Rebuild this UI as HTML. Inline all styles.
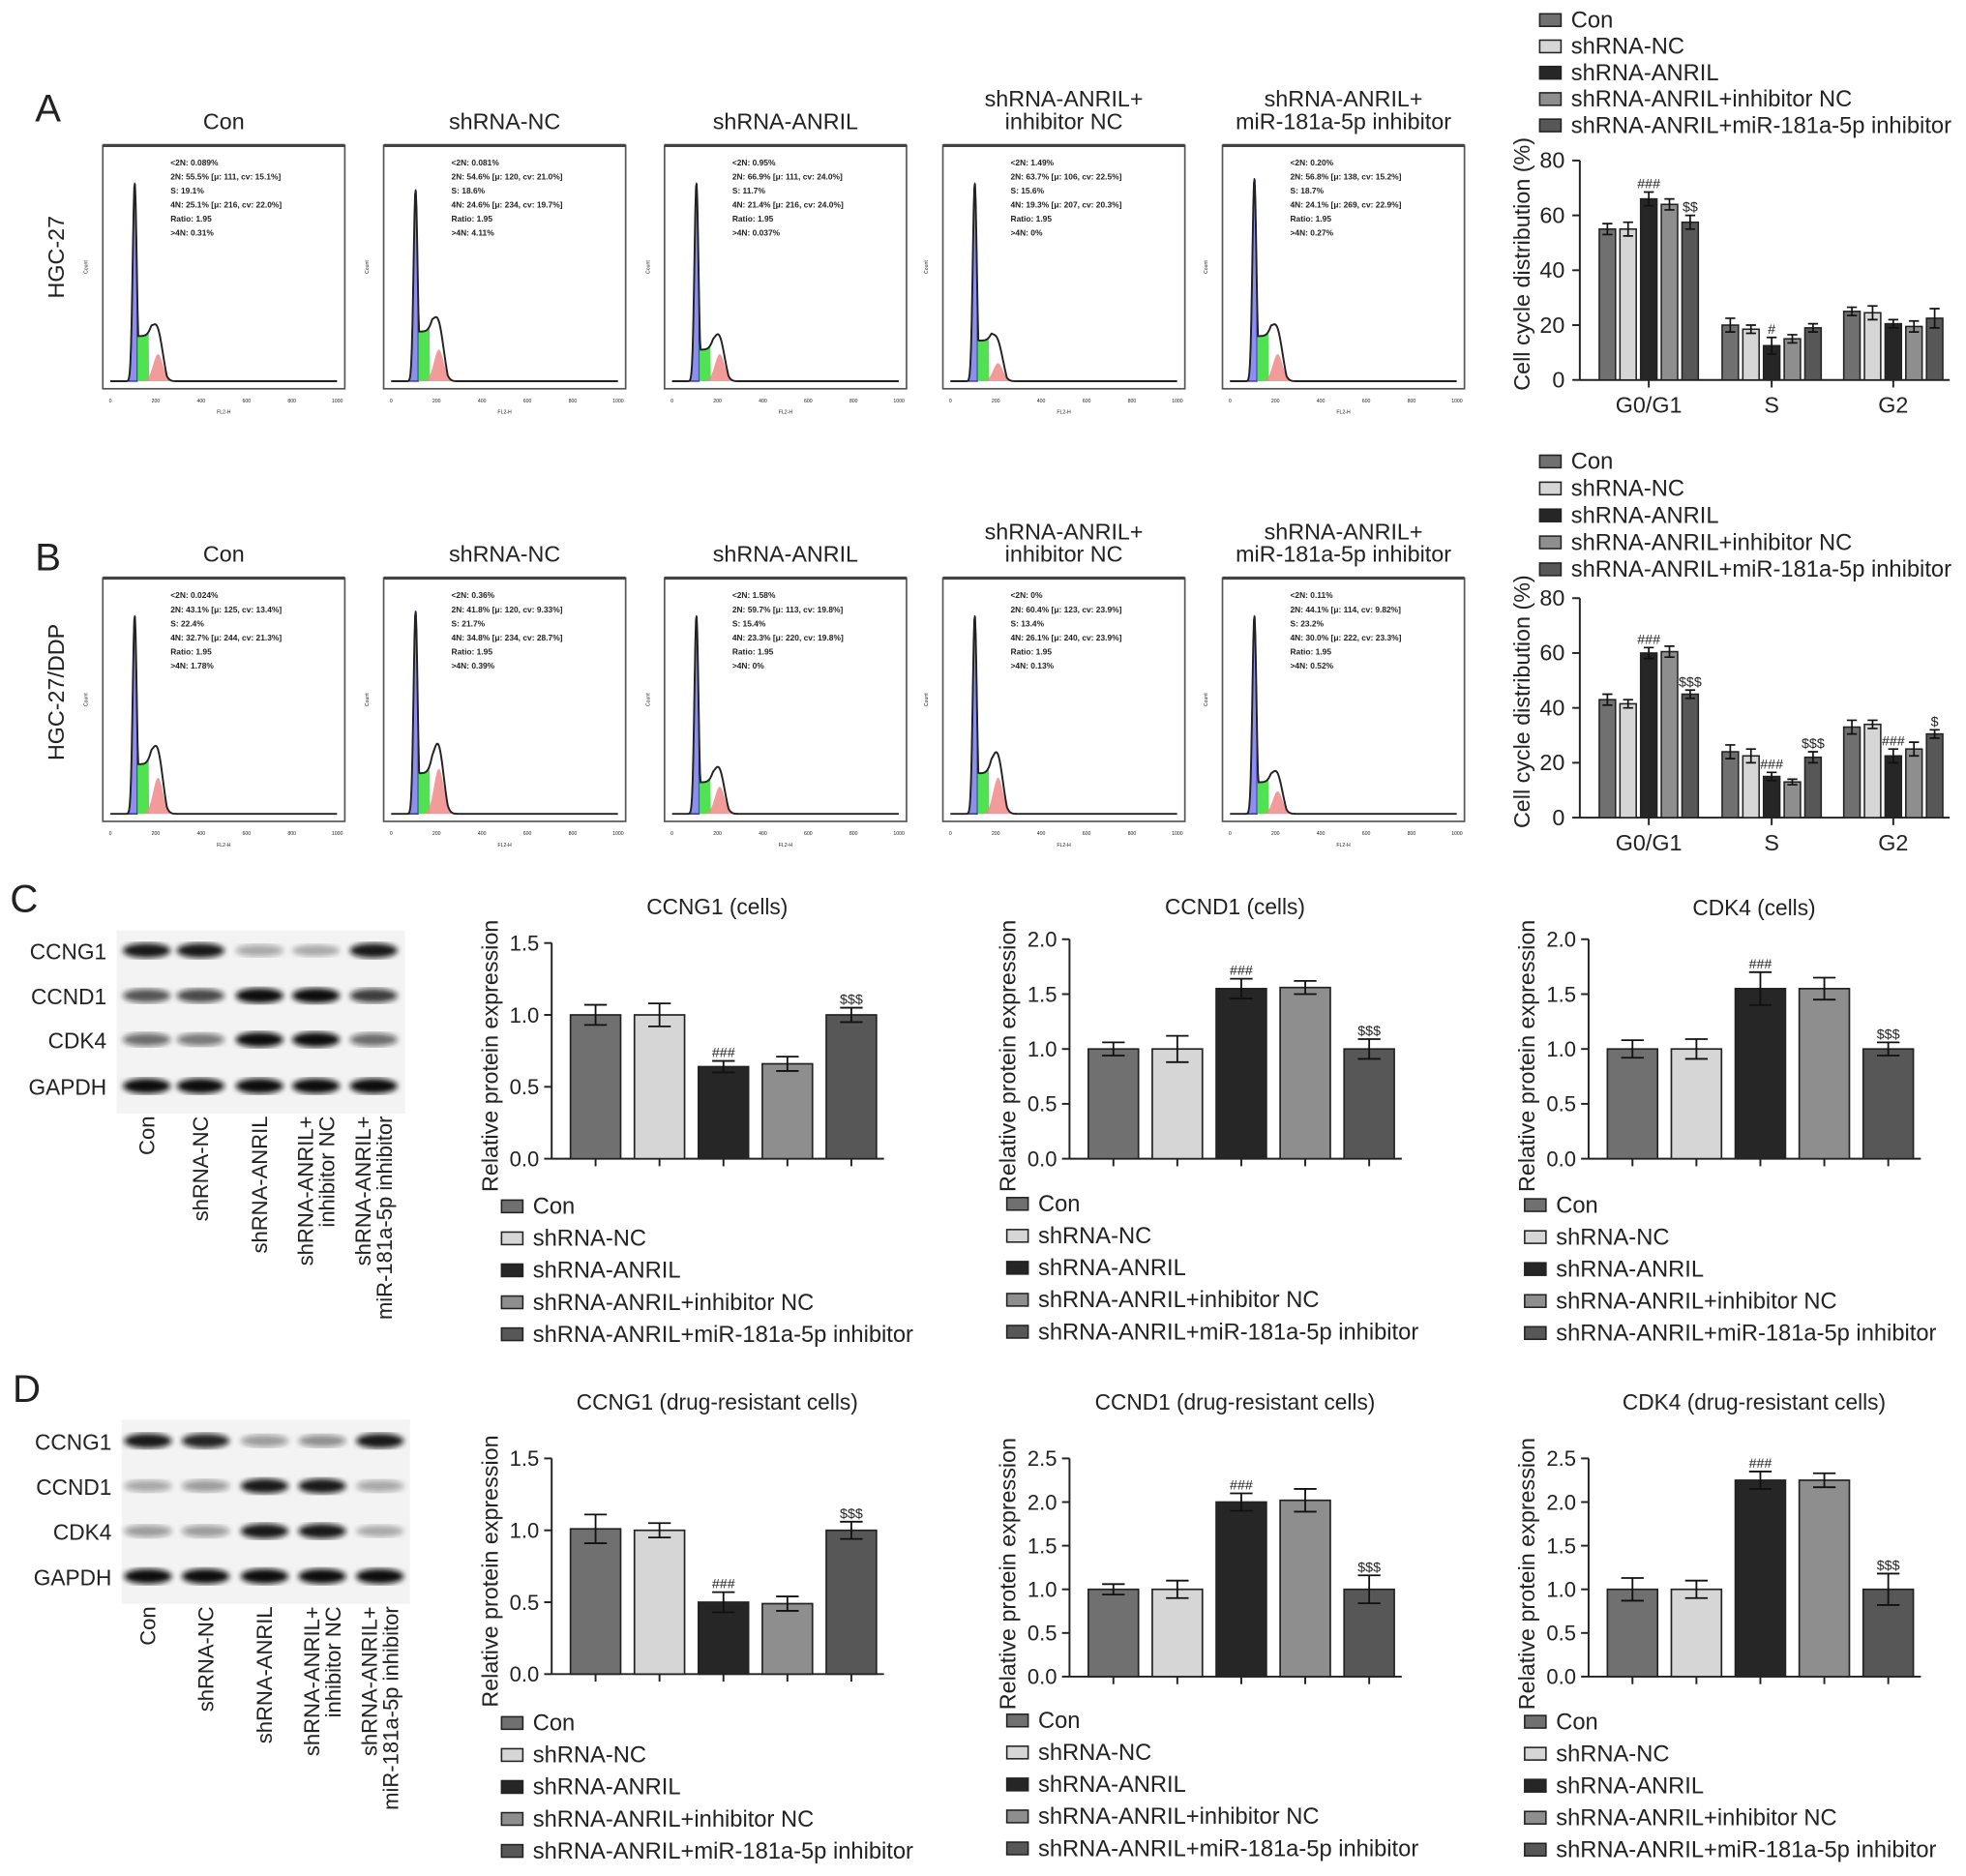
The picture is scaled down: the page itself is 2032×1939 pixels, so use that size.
<!DOCTYPE html>
<html><head><meta charset="utf-8"><style>
html,body{margin:0;padding:0;background:#fff}
svg{display:block}
text{font-family:"Liberation Sans",Arial,sans-serif;fill:#222}
</style></head><body>
<svg id="fig" xmlns="http://www.w3.org/2000/svg" width="2032" height="1939" viewBox="0 0 1568 1496" preserveAspectRatio="none">
<defs><filter id="blur"><feGaussianBlur stdDeviation="2.2"/></filter></defs>
</svg>
<script>
const groups = ["Con","shRNA-NC","shRNA-ANRIL","shRNA-ANRIL+inhibitor NC","shRNA-ANRIL+miR-181a-5p inhibitor"];
const phases = ["G0/G1","S","G2"];
// Cell cycle A (HGC-27)
const cycA_G1 = [55,55,66,64,57.5];
const cycA_S = [20,18.5,12.5,15,19];
const cycA_G2 = [25,24.5,20.5,19.5,22.5];
const cycA_err = [[2,2.5,2.5,2,2.5],[2.5,1.5,3,1.5,1.5],[1.5,2.5,1.5,2,3.5]];
// Cell cycle B (HGC-27/DDP)
const cycB_G1 = [43,41.5,60,60.5,45];
const cycB_S = [24,22.5,15,13,22];
const cycB_G2 = [33,34,22.5,25,30.5];
const cycB_err = [[2,1.5,2,2,1.5],[2.5,2.5,1.5,1,2],[2.5,1.5,2.5,2.5,1.5]];
const cycTicks = [0,20,40,60,80];
// Protein expression C
const c_CCNG1 = [1.0,1.0,0.64,0.66,1.0];
const c_CCND1 = [1.0,1.0,1.55,1.56,1.0];
const c_CDK4 = [1.0,1.0,1.55,1.55,1.0];
// Protein expression D
const d_CCNG1 = [1.01,1.0,0.5,0.49,1.0];
const d_CCND1 = [1.0,1.0,2.0,2.02,1.0];
const d_CDK4 = [1.0,1.0,2.25,2.25,1.0];
const c_err = [[0.07,0.08,0.04,0.05,0.05],[0.06,0.12,0.09,0.06,0.09],[0.08,0.09,0.15,0.1,0.06]];
const d_err = [[0.1,0.05,0.07,0.05,0.06],[0.06,0.1,0.1,0.13,0.16],[0.13,0.1,0.1,0.08,0.18]];
const ticks15 = [0.0,0.5,1.0,1.5];
const ticks20 = [0.0,0.5,1.0,1.5,2.0];
const ticks25 = [0.0,0.5,1.0,1.5,2.0,2.5];
const fills = ["#707070","#d6d6d6","#262626","#8e8e8e","#575757"];

const NS="http://www.w3.org/2000/svg";
const svg=document.getElementById('fig');
function el(tag,attrs,parent,txt){const e=document.createElementNS(NS,tag);for(const k in attrs)e.setAttribute(k,attrs[k]);if(txt!==undefined)e.textContent=txt;(parent||svg).appendChild(e);return e;}
function T(x,y,s,size,extra,parent){const a=Object.assign({x:x,y:y,'font-size':size},extra||{});return el('text',a,parent,s);}

[["A",28,97],["B",28,455],["C",8,727],["D",10,1118]].forEach(p=>{const t=T(p[1],p[2],p[0],31);

});

function legend(x,y0,dy,size,name){const g=el('g',{});


groups.forEach((gr,i)=>{const y=y0+i*dy;
el('rect',{x:x,y:y-5,width:17,height:10,fill:fills[i],stroke:'#222','stroke-width':1.2},g);
const t=T(x+25,y+6,gr,size,{},g);

});}

function cycleChart(ax,y0,y80,series,errs,marks,name){
const g=el('g',{});


const ys=v=>y0-(v/80)*(y0-y80);
el('line',{x1:ax,y1:y80,x2:ax,y2:y0,stroke:'#222','stroke-width':1.5},g);
el('line',{x1:ax,y1:y0,x2:ax+295,y2:y0,stroke:'#222','stroke-width':1.5},g);
cycTicks.forEach(t=>{el('line',{x1:ax-6,y1:ys(t),x2:ax,y2:ys(t),stroke:'#222','stroke-width':1.5},g);
T(ax-12,ys(t)+6,String(t),18,{'text-anchor':'end'},g);});
const yl=T(0,0,"Cell cycle distribution (%)",18,{'text-anchor':'middle',transform:`translate(${ax-40},${(y0+y80)/2-5}) rotate(-90)`},g);


const centers=[ax+55,ax+153,ax+250];
series.forEach((vals,gi)=>{
 el('line',{x1:centers[gi],y1:y0,x2:centers[gi],y2:y0+6,stroke:'#222','stroke-width':1.5},g);
 T(centers[gi],y0+26,phases[gi],18,{'text-anchor':'middle'},g);
 vals.forEach((v,i)=>{const cx=centers[gi]+(i-2)*16.5;
  const r=el('rect',{x:cx-6.5,y:ys(v),width:13,height:y0-ys(v),fill:fills[i],stroke:'#222','stroke-width':1.2},g);
  
  
  const e=errs[gi][i];
  el('path',{d:`M${cx} ${ys(v+e)}V${ys(v-e)}M${cx-4} ${ys(v+e)}H${cx+4}M${cx-4} ${ys(v-e)}H${cx+4}`,stroke:'#111','stroke-width':1.3,fill:'none'},g);
  const m=marks[gi][i]; if(m) T(cx,ys(v+e)-3,m,11,{'text-anchor':'middle'},g);
 });});
}
legend(1228,16,21,18.3,'legend-a');
cycleChart(1260,303,128,[cycA_G1,cycA_S,cycA_G2],cycA_err,[["","","###","","$$"],["","","#","",""],["","","","",""]],'cell-cycle-chart-a');
legend(1228,368,21.5,18.3,'legend-b');
cycleChart(1260,652,477,[cycB_G1,cycB_S,cycB_G2],cycB_err,[["","","###","","$$$"],["","","###","","$$$"],["","","###","","$"]],'cell-cycle-chart-b');

function protChart(ax,y0,ytop,maxv,ticks,vals,errs,title,ty,name){
const g=el('g',{});


const ys=v=>y0-(v/maxv)*(y0-ytop);
const tt=T(ax+132,ty,title,17.5,{'text-anchor':'middle'},g);


el('line',{x1:ax,y1:ytop,x2:ax,y2:y0,stroke:'#222','stroke-width':1.5},g);
el('line',{x1:ax,y1:y0,x2:ax+265,y2:y0,stroke:'#222','stroke-width':1.5},g);
ticks.forEach(t=>{el('line',{x1:ax-6,y1:ys(t),x2:ax,y2:ys(t),stroke:'#222','stroke-width':1.5},g);
T(ax-10,ys(t)+6,t.toFixed(1),17,{'text-anchor':'end'},g);});
const yl=T(0,0,"Relative protein expression",18,{'text-anchor':'middle',transform:`translate(${ax-43},${y0-82}) rotate(-90)`},g);


vals.forEach((v,i)=>{const cx=ax+35+i*51;
 el('line',{x1:cx,y1:y0,x2:cx,y2:y0+6,stroke:'#222','stroke-width':1.5},g);
 const r=el('rect',{x:cx-20,y:ys(v),width:40,height:y0-ys(v),fill:fills[i],stroke:'#222','stroke-width':1.3},g);
 
 
 const e=errs[i];
 el('path',{d:`M${cx} ${ys(v+e)}V${ys(v-e)}M${cx-9} ${ys(v+e)}H${cx+9}M${cx-9} ${ys(v-e)}H${cx+9}`,stroke:'#111','stroke-width':1.4,fill:'none'},g);
 if(i===2) T(cx,ys(v+e)-3,"###",11,{'text-anchor':'middle'},g);
 if(i===4) T(cx,ys(v+e)-3,"$$$",11,{'text-anchor':'middle'},g);
});}
protChart(440,924,752,1.5,ticks15,c_CCNG1,c_err[0],"CCNG1 (cells)",729,'ccng1-cells-chart');
protChart(853,924,749,2.0,ticks20,c_CCND1,c_err[1],"CCND1 (cells)",729,'ccnd1-cells-chart');
protChart(1267,924,749,2.0,ticks20,c_CDK4,c_err[2],"CDK4 (cells)",730,'cdk4-cells-chart');
protChart(440,1335,1163,1.5,ticks15,d_CCNG1,d_err[0],"CCNG1 (drug-resistant cells)",1124,'ccng1-resistant-chart');
protChart(853,1337,1163,2.5,ticks25,d_CCND1,d_err[1],"CCND1 (drug-resistant cells)",1124,'ccnd1-resistant-chart');
protChart(1267,1337,1163,2.5,ticks25,d_CDK4,d_err[2],"CDK4 (drug-resistant cells)",1124,'cdk4-resistant-chart');
legend(400,962,25.5,18.3,'legend-ccng1-cells');
legend(803,960,25.5,18.3,'legend-ccnd1-cells');
legend(1216,961,25.5,18.3,'legend-cdk4-cells');
legend(400,1374,25.5,18.3,'legend-ccng1-resistant');
legend(803,1372,25.5,18.3,'legend-ccnd1-resistant');
legend(1216,1373,25.5,18.3,'legend-cdk4-resistant');

const blotRows=["CCNG1","CCND1","CDK4","GAPDH"];
const blotC=[[0.95,0.95,0.35,0.3,0.95],[0.7,0.75,1,1,0.8],[0.6,0.55,1,1,0.6],[1,1,1,1,1]];
const blotD=[[0.95,0.9,0.4,0.45,0.95],[0.35,0.4,0.95,0.95,0.35],[0.4,0.4,0.95,0.95,0.3],[1,1,1,1,1]];
function blot(x0,y0,rowYs,lanes,inten,name){
 const g=el('g',{});
 
 
 el('rect',{x:x0,y:y0,width:230,height:rowYs[3]-y0+22,fill:'#f3f3f3'},g);
 rowYs.forEach((y,r)=>{T(x0-8,y+7,blotRows[r],17.5,{'text-anchor':'end'},g);
  lanes.forEach((lx,i)=>{const a=inten[r][i];
   el('ellipse',{cx:lx,cy:y,rx:19,ry:4+2*a,fill:'#111','fill-opacity':a,filter:'url(#blur)'},g);});});
 const lbl=[["Con"],["shRNA-NC"],["shRNA-ANRIL"],["shRNA-ANRIL+","inhibitor NC"],["shRNA-ANRIL+","miR-181a-5p inhibitor"]];
 lanes.forEach((lx,i)=>{const L=lbl[i];const ystart=rowYs[3]+24;
  L.forEach((s,j)=>{const off=(j-(L.length-1)/2)*17;
   T(0,0,s,17,{'text-anchor':'end',transform:`translate(${lx+6+off},${ystart}) rotate(-90)`},g);});});
}
blot(93,742,[758,794,829,866],[117,160,207,252,298],blotC,'western-blot-c');
blot(97,1132,[1149,1185,1221,1257],[118,164,211,257,303],blotD,'western-blot-d');

const flowTitles=[["Con"],["shRNA-NC"],["shRNA-ANRIL"],["shRNA-ANRIL+","inhibitor NC"],["shRNA-ANRIL+","miR-181a-5p inhibitor"]];
const flowX=[82,306,530,752,975];
const txtA=[["<2N: 0.089%","2N: 55.5%  [μ: 111, cv: 15.1%]","S: 19.1%","4N: 25.1%  [μ: 216, cv: 22.0%]","Ratio: 1.95",">4N: 0.31%"],
["<2N: 0.081%","2N: 54.6%  [μ: 120, cv: 21.0%]","S: 18.6%","4N: 24.6%  [μ: 234, cv: 19.7%]","Ratio: 1.95",">4N: 4.11%"],
["<2N: 0.95%","2N: 66.9%  [μ: 111, cv: 24.0%]","S: 11.7%","4N: 21.4%  [μ: 216, cv: 24.0%]","Ratio: 1.95",">4N: 0.037%"],
["<2N: 1.49%","2N: 63.7%  [μ: 106, cv: 22.5%]","S: 15.6%","4N: 19.3%  [μ: 207, cv: 20.3%]","Ratio: 1.95",">4N: 0%"],
["<2N: 0.20%","2N: 56.8%  [μ: 138, cv: 15.2%]","S: 18.7%","4N: 24.1%  [μ: 269, cv: 22.9%]","Ratio: 1.95",">4N: 0.27%"]];
const txtB=[["<2N: 0.024%","2N: 43.1%  [μ: 125, cv: 13.4%]","S: 22.4%","4N: 32.7%  [μ: 244, cv: 21.3%]","Ratio: 1.95",">4N: 1.78%"],
["<2N: 0.36%","2N: 41.8%  [μ: 120, cv: 9.33%]","S: 21.7%","4N: 34.8%  [μ: 234, cv: 28.7%]","Ratio: 1.95",">4N: 0.39%"],
["<2N: 1.58%","2N: 59.7%  [μ: 113, cv: 19.8%]","S: 15.4%","4N: 23.3%  [μ: 220, cv: 19.8%]","Ratio: 1.95",">4N: 0%"],
["<2N: 0%","2N: 60.4%  [μ: 123, cv: 23.9%]","S: 13.4%","4N: 26.1%  [μ: 240, cv: 23.9%]","Ratio: 1.95",">4N: 0.13%"],
["<2N: 0.11%","2N: 44.1%  [μ: 114, cv: 9.82%]","S: 23.2%","4N: 30.0%  [μ: 222, cv: 23.3%]","Ratio: 1.95",">4N: 0.52%"]];
const peakHA=[0.88,0.85,0.88,0.88,0.9], sHA=[0.2,0.22,0.14,0.18,0.2], g2HA=[0.12,0.14,0.12,0.08,0.12];
const peakHB=[0.88,0.9,0.88,0.88,0.88], sHB=[0.22,0.18,0.14,0.18,0.14], g2HB=[0.16,0.2,0.12,0.16,0.1];
function gauss(x,m,s){return Math.exp(-0.5*((x-m)/s)**2);}
function flow(x0,yT,i,texts,pk,sh,g2,name){
 const w=193,h=194,g=el('g',{});
 
 
 const tl=flowTitles[i];
 tl.forEach((s,j)=>T(x0+w/2,yT-13-(tl.length-1-j)*18,s,18,{'text-anchor':'middle'},g));
 el('rect',{x:x0,y:yT,width:w,height:h,fill:'#fff',stroke:'#555','stroke-width':1.3},g);
 el('line',{x1:x0,y1:yT,x2:x0+w,y2:yT,stroke:'#444','stroke-width':2.5},g);
 const base=yT+h-6, X=c=>x0+6+c/1024*(w-12), Y=f=>base-f*(h-14);
 const m1=110,m2=215;
 const f1=c=>pk*gauss(c,m1,9), f2=c=>g2*gauss(c,m2,22);
 const tot=c=>Math.min(Math.max(f1(c),(c>m1&&c<m2+40)?sh*(1-Math.max(0,(c-m2+30))/70):0)+f2(c),0.95);
 let pb=`M${X(60)} ${base}`,pg=`M${X(m1+12)} ${base}`,pr=`M${X(150)} ${base}`,pl=`M${X(0)} ${base}`;
 for(let c=60;c<=m1+12;c+=2)pb+=`L${X(c)} ${Y(tot(c))}`;pb+=`L${X(m1+12)} ${base}Z`;
 for(let c=m1+12;c<=175;c+=3)pg+=`L${X(c)} ${Y(tot(c))}`;pg+=`L${X(175)} ${base}Z`;
 for(let c=150;c<=300;c+=3)pr+=`L${X(c)} ${Y(f2(c))}`;pr+=`L${X(300)} ${base}Z`;
 for(let c=0;c<=1024;c+=3){pl+=`L${X(c)} ${Y(tot(c))}`;}
 el('path',{d:pb,fill:'#8e8ef0',stroke:'#2222aa','stroke-width':1},g);
 el('path',{d:pg,fill:'#33dd33','fill-opacity':0.85},g);
 el('path',{d:pr,fill:'#f08a8a','fill-opacity':0.85},g);
 el('path',{d:pl,fill:'none',stroke:'#222','stroke-width':1.5},g);
 texts.forEach((s,j)=>T(x0+54,yT+16+j*11.2,s,6.5,{'font-weight':'bold'},g));
 for(let k=0;k<=5;k++){T(x0+6+k*(w-12)/5,yT+h+11,String(k*200),4,{'text-anchor':'middle'},g);}
 T(x0+w/2,yT+h+20,"FL2-H",4,{'text-anchor':'middle'},g);
 T(0,0,"Count",4,{'text-anchor':'middle',transform:`translate(${x0-12},${yT+h/2}) rotate(-90)`},g);
}
flowX.forEach((x,i)=>flow(x,116,i,txtA[i],peakHA[i],sHA[i],g2HA[i],'flow-histogram-a-'+i));
flowX.forEach((x,i)=>flow(x,461,i,txtB[i],peakHB[i],sHB[i],g2HB[i],'flow-histogram-b-'+i));
const r1=T(0,0,"HGC-27",18,{'text-anchor':'middle',transform:'translate(51,205) rotate(-90)'});


const r2=T(0,0,"HGC-27/DDP",18,{'text-anchor':'middle',transform:'translate(51,552) rotate(-90)'});


</script>
</body></html>
